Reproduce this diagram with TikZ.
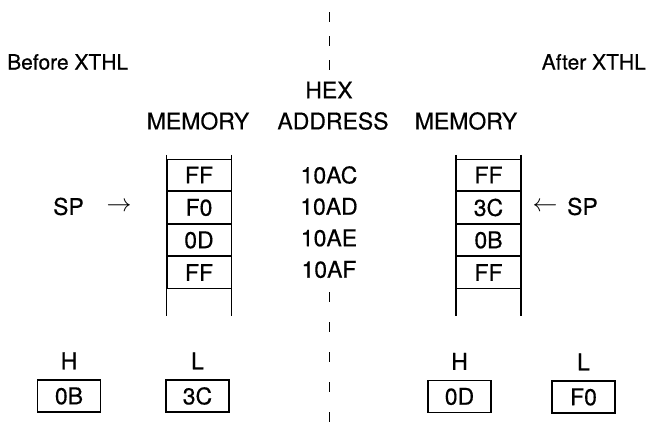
\documentclass[tikz,border=0pt]{standalone}
\usepackage{fontspec}
\setmainfont{TeX Gyre Heros}[FakeBold=0.4]
\usetikzlibrary{positioning}

\begin{document}
\begin{tikzpicture}[x=1pt, y=-1pt, node distance=0pt,
    every node/.style={inner sep=0pt, font=\fontsize{23}{27}\selectfont},
    title/.style={font=\fontsize{21}{25}\selectfont},
    pointer/.style={font=\fontsize{27}{30}\selectfont},
    cell/.style={draw, line width=1pt, minimum width=64pt, minimum height=31.5pt},
    reg/.style={draw, line width=1.1pt, minimum width=63pt, minimum height=32pt},
    rail/.style={line width=1.1pt}]
  \useasboundingbox (0,0) rectangle (651,431);
  % divider
  \draw[line width=1pt, dash pattern=on 10pt off 14pt] (329,12) -- (329,72);
  \draw[line width=1pt, dash pattern=on 10pt off 20pt] (329,292) -- (329,431);
  % headings
  \node[title, anchor=west] (before) at (7,62) {Before XTHL};
  \node[title, anchor=east] (after) at (646,62) {After XTHL};
  \node (hex) at (329,90) {HEX};
  \node (addr) at (333,121) {ADDRESS};
  \node (memL) at (198,121) {MEMORY};
  \node (memR) at (466,121) {MEMORY};
  % memory before
  \node[cell] (l1) at (199,175) {FF};
  \node[cell, below=of l1] (l2) {F0};
  \node[cell, below=of l2] (l3) {0D};
  \node[cell, below=of l3] (l4) {FF};
  \draw[rail] ([yshift=4pt]l1.north west) -- ([yshift=-27pt]l4.south west);
  \draw[rail] ([yshift=4pt]l1.north east) -- ([yshift=-27pt]l4.south east);
  % addresses
  \node (a1) at (329,175) {10AC};
  \node (a2) at (329,206.5) {10AD};
  \node (a3) at (329,238) {10AE};
  \node (a4) at (329,269.5) {10AF};
  % memory after
  \node[cell] (r1) at (488.5,175) {FF};
  \node[cell, below=of r1] (r2) {3C};
  \node[cell, below=of r2] (r3) {0B};
  \node[cell, below=of r3] (r4) {FF};
  \draw[rail] ([yshift=4pt]r1.north west) -- ([yshift=-27pt]r4.south west);
  \draw[rail] ([yshift=4pt]r1.north east) -- ([yshift=-27pt]r4.south east);
  % stack pointer
  \node (spL) at (68.5,206.5) {SP};
  \node[pointer] (arL) at (119,206.5) {$\rightarrow$};
  \node (spR) at (582.5,206.5) {SP};
  \node[pointer] (arR) at (545,206.5) {$\leftarrow$};
  % registers before
  \node[reg] (hL) at (69,396) {0B};
  \node[reg] (lL) at (197.5,396) {3C};
  \node[above=10pt of hL] (hLlab) {H};
  \node[above=10pt of lL] (lLlab) {L};
  % registers after
  \node[reg] (hR) at (459.5,396.5) {0D};
  \node[reg] (lR) at (583.5,397) {F0};
  \node[above=10pt of hR] (hRlab) {H};
  \node[above=10pt of lR] (lRlab) {L};
\end{tikzpicture}
\end{document}
